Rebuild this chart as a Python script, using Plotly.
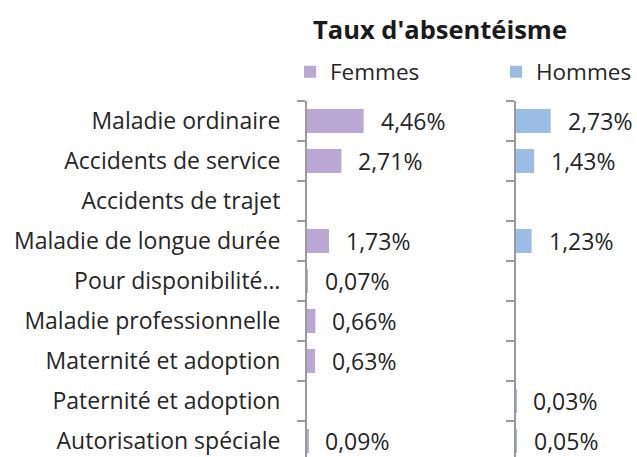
import plotly.graph_objects as go

categories = ["Maladie ordinaire", "Accidents de service", "Accidents de trajet",
              "Maladie de longue durée", "Pour disponibilité…", "Maladie professionnelle",
              "Maternité et adoption", "Paternité et adoption", "Autorisation spéciale"]
femmes = [4.46, 2.71, None, 1.73, 0.07, 0.66, 0.63, None, 0.09]
hommes = [2.73, 1.43, None, 1.23, None, None, None, 0.03, 0.05]
title = "Taux d'absentéisme"

FONT = "Open Sans"
C_F = "#BBA7D4"
C_H = "#9BBDE5"
AX = "#9a9a9a"
TXT = "#262626"

def fmt(v):
    return f"{v:.2f}".replace(".", ",") + "%"

fig = go.Figure()
fig.add_trace(go.Bar(y=categories, x=femmes, orientation="h", name="Femmes",
                     marker=dict(color=C_F, line=dict(width=0)), width=0.6,
                     xaxis="x", yaxis="y", legend="legend"))
fig.add_trace(go.Bar(y=categories, x=hommes, orientation="h", name="Hommes",
                     marker=dict(color=C_H, line=dict(width=0)), width=0.6,
                     xaxis="x2", yaxis="y2", legend="legend2"))

ann = []
for xr, yr, vals in (("x", "y", femmes), ("x2", "y2", hommes)):
    for c, v in zip(categories, vals):
        if v is not None:
            ann.append(dict(x=v, y=c, xref=xr, yref=yr, text=fmt(v), showarrow=False,
                            xanchor="left", xshift=15,
                            font=dict(size=23, color=TXT, family=FONT)))

ppx = 12.7  # pixels per percent
W, H = 637, 457
L, T = 307, 101
pw = W - L
left_w = 193
right_start = 209

yax = dict(type="category", autorange=False, range=[8.4, -0.5], automargin=False,
           showline=True, linecolor=AX, linewidth=2, ticks="outside", ticklen=8,
           tickcolor=AX, tickwidth=2, tickson="boundaries", showgrid=False, zeroline=False)

leg = dict(orientation="h", xref="container", yref="container", y=1 - 72 / H, yanchor="middle",
           font=dict(size=22.5, family=FONT, color=TXT), bgcolor="rgba(0,0,0,0)", borderwidth=0)

fig.update_layout(
    width=W, height=H,
    margin=dict(l=L, r=0, t=T, b=0, autoexpand=False),
    paper_bgcolor="white", plot_bgcolor="white",
    font=dict(family=FONT, color=TXT),
    title=dict(text=f"<b>{title}</b>", x=440 / W, xanchor="center", xref="container",
               y=1 - 30 / H, yanchor="middle", yref="container",
               font=dict(size=25.5, color="#1a1a1a", family=FONT)),
    showlegend=True,
    legend=dict(**leg, x=290 / W, xanchor="left"),
    legend2=dict(**leg, x=1.0, xanchor="right"),
    xaxis=dict(domain=[0, left_w / pw], range=[0, left_w / ppx], visible=False, fixedrange=True,
               automargin=False),
    xaxis2=dict(domain=[right_start / pw, 1], range=[0, (pw - right_start) / ppx], visible=False,
                fixedrange=True, automargin=False),
    yaxis=dict(**yax, tickfont=dict(size=23, family=FONT, color=TXT), ticklabelstandoff=20),
    yaxis2=dict(**yax, anchor="x2", showticklabels=False, matches="y"),
    annotations=ann,
)

fig.write_html("out.html", config={"displayModeBar": False},
               post_script="document.body.style.margin='0';document.body.style.overflow='hidden';")
